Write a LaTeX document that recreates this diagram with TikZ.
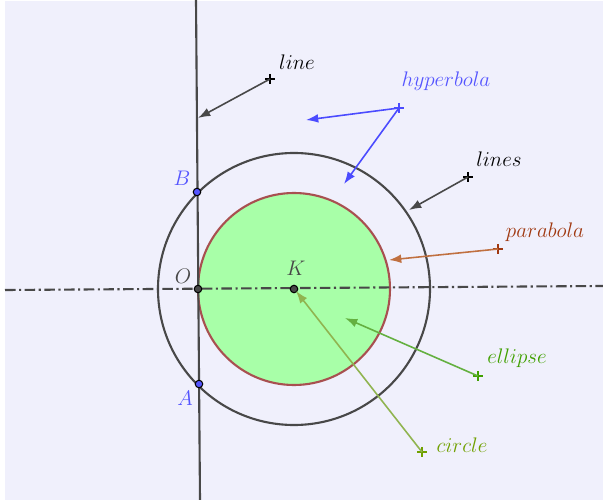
\documentclass[tikz,border=0pt]{standalone}
\usetikzlibrary{arrows.meta}
\definecolor{mybg}{RGB}{240,240,252}
\definecolor{mygray}{RGB}{72,72,72}
\definecolor{myblue}{RGB}{85,85,255}
\definecolor{hypblue}{RGB}{75,75,255}
\definecolor{mygreen}{RGB}{168,255,168}
\definecolor{myred}{RGB}{168,80,80}
\definecolor{parlab}{RGB}{160,56,16}
\definecolor{pararr}{RGB}{192,112,64}
\definecolor{elllab}{RGB}{64,160,0}
\definecolor{ellarr}{RGB}{100,176,64}
\definecolor{cirlab}{RGB}{112,160,0}
\definecolor{cirarr}{RGB}{144,180,80}

\begin{document}
\begin{tikzpicture}[x=0.02cm,y=-0.02cm,
  every node/.style={font=\large},
  pt/.style={circle,draw=black,line width=0.6pt,inner sep=0pt,minimum size=0.15cm},
  arr/.style={line width=0.9pt,-{Latex[length=7pt,width=5pt]}},
  thick line/.style={line width=1.2pt,color=mygray}]
  \def\R{136}
  \def\r{96}

  %Background
  \useasboundingbox (0,0) rectangle (603,500);
  \fill[mybg] (5,1) rectangle (603,500);

  %Circles around K
  \coordinate (K) at (294,289);
  \draw[thick line] (K) circle (\R);
  \draw[fill=mygreen,draw=myred,line width=1.2pt] (K) circle (\r);

  %Axes
  \coordinate (vtop) at (196,0);
  \coordinate (vbot) at (200,500);
  \coordinate (hl) at (5,290);
  \coordinate (hr) at (603,286);
  \draw[thick line] (vtop) -- (vbot);
  \draw[thick line,dash pattern=on 6pt off 2pt on 1.2pt off 2pt] (hl) -- (hr);

  %Points
  \node[pt,fill=myblue] (B) at (197,192) {};
  \node[pt,fill=myblue] (A) at (199,384) {};
  \node[pt,fill=mygray] (O) at (198,289) {};
  \node[pt,fill=mygray] (Kpt) at (K) {};
  \node[myblue] (Blab) at (182,178) {$B$};
  \node[myblue] (Alab) at (185,398) {$A$};
  \node[mygray] (Olab) at (183,276) {$O$};
  \node[mygray] (Klab) at (296,268) {$K$};

  %Labels with their crosses
  \coordinate (cline) at (270,79);
  \coordinate (chyp) at (399,108);
  \coordinate (clines) at (468,177);
  \coordinate (cpar) at (498,249);
  \coordinate (cell) at (478,376);
  \coordinate (ccir) at (422,452);
  \node (linelab) at (297,62) {$line$};
  \node[myblue] (hyplab) at (446,81) {$hyperbola$};
  \node (lineslab) at (499,159) {$lines$};
  \node[parlab] (parlab) at (545,232) {$parabola$};
  \node[elllab] (elllab) at (517,358) {$ellipse$};
  \node[cirlab] (cirlab) at (462,445) {$circle$};

  \foreach \c/\col in {cline/black,chyp/hypblue,clines/black,cpar/parlab,cell/elllab,ccir/cirlab}
  {
    \draw[\col,line width=1.1pt] (\c) ++(-5,0) -- ++(10,0) (\c) ++(0,-5) -- ++(0,10);
  }

  %Arrows
  \coordinate (tline) at (198,118);
  \coordinate (thyp1) at (306,120);
  \coordinate (thyp2) at (344,184);
  \coordinate (tlines) at (409,210);
  \coordinate (tpar) at (389,260);
  \coordinate (tell) at (345,318);
  \coordinate (tcir) at (296,291);
  \draw[arr,mygray] (cline) -- (tline);
  \draw[arr,hypblue] (chyp) -- (thyp1);
  \draw[arr,hypblue] (chyp) -- (thyp2);
  \draw[arr,mygray] (clines) -- (tlines);
  \draw[arr,pararr] (cpar) -- (tpar);
  \draw[arr,ellarr] (cell) -- (tell);
  \draw[arr,cirarr] (ccir) -- (tcir);
\end{tikzpicture}
\end{document}
